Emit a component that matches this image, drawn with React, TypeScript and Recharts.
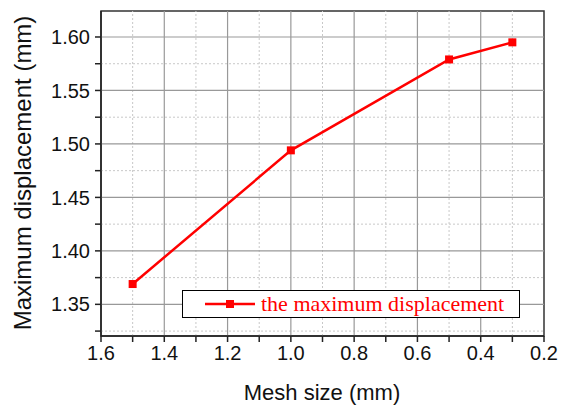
import { LineChart, Line, XAxis, YAxis, ReferenceLine, ReferenceArea } from 'recharts'

const meshSize = [1.5, 1.0, 0.5, 0.3]
const maxDisp = [1.369, 1.494, 1.579, 1.595]

const xTicks = [1.6, 1.5, 1.4, 1.3, 1.2, 1.1, 1.0, 0.9, 0.8, 0.7, 0.6, 0.5, 0.4, 0.3, 0.2]
const xMajorGrid = [1.4, 1.2, 1.0, 0.8, 0.6, 0.4]
const xMinorGrid = [1.5, 1.3, 1.1, 0.9, 0.7, 0.5, 0.3]
const yTicks = [1.325, 1.35, 1.375, 1.4, 1.425, 1.45, 1.475, 1.5, 1.525, 1.55, 1.575, 1.6]
const yMajorGrid = [1.35, 1.4, 1.45, 1.5, 1.55, 1.6]
const yMinorGrid = [1.325, 1.375, 1.425, 1.475, 1.525, 1.575]

const xDomain: [number, number] = [0.2, 1.6]
const yDomain: [number, number] = [1.3204, 1.6243]

const seriesName = 'the maximum displacement'

const data = meshSize.map((m, i) => ({ mesh: m, disp: maxDisp[i] }))

const sans = 'Liberation Sans, Arial, sans-serif'
const axisFont = { fontSize: 20, fill: '#111', fontFamily: sans }

const SquareDot = (props: any) => {
  const { cx, cy } = props
  if (cx == null || cy == null) return null
  return <rect x={cx - 4} y={cy - 4} width={8} height={8} fill="#ff0000" />
}

// legend drawn as an overlay so it doesn't eat into the plot height
const LegendBox = () => (
  <div
    style={{
      position: 'absolute',
      left: 182,
      top: 290,
      width: 336,
      height: 26,
      border: '1px solid #000',
      background: '#fff',
      display: 'flex',
      alignItems: 'center',
    }}
  >
    <svg width={78} height={26}>
      <line x1={22} x2={72} y1={13} y2={13} stroke="#ff0000" strokeWidth={2.5} />
      <rect x={43} y={9} width={8} height={8} fill="#ff0000" />
    </svg>
    <span style={{ fontFamily: 'Liberation Serif, Times New Roman, serif', fontSize: 22, color: '#ff0000', lineHeight: '26px', whiteSpace: 'nowrap' }}>
      {seriesName}
    </span>
  </div>
)

export default function App() {
  return (
    <div style={{ position: 'absolute', left: 0, top: 0, width: 561, height: 408, background: '#fff' }}>
      <LineChart width={561} height={408} data={data} margin={{ top: 11, right: 17, bottom: 42, left: 0 }}>
        <XAxis
          dataKey="mesh"
          type="number"
          domain={xDomain}
          reversed
          ticks={xTicks}
          interval={0}
          allowDataOverflow
          height={30}
          tick={axisFont}
          tickSize={6}
          tickMargin={4}
          axisLine={{ stroke: '#222', strokeWidth: 1.5 }}
          tickLine={{ stroke: '#222', strokeWidth: 1.5 }}
          tickFormatter={(v: number) => (Math.round(v * 10) % 2 === 0 ? v.toFixed(1) : '')}
        />
        <YAxis
          type="number"
          domain={yDomain}
          ticks={yTicks}
          interval={0}
          allowDataOverflow
          width={101}
          tick={axisFont}
          tickSize={6}
          tickMargin={5}
          axisLine={{ stroke: '#222', strokeWidth: 1.5 }}
          tickLine={{ stroke: '#222', strokeWidth: 1.5 }}
          tickFormatter={(v: number) => (Math.round(v * 1000) % 50 === 0 ? v.toFixed(2) : '')}
        />
        {xMinorGrid.map((v) => (
          <ReferenceLine key={'xm' + v} x={v} stroke="#c8c8c8" strokeDasharray="2 2" />
        ))}
        {yMinorGrid.map((v) => (
          <ReferenceLine key={'ym' + v} y={v} stroke="#c8c8c8" strokeDasharray="2 2" />
        ))}
        {xMajorGrid.map((v) => (
          <ReferenceLine key={'xM' + v} x={v} stroke="#999" strokeWidth={1.2} />
        ))}
        {yMajorGrid.map((v) => (
          <ReferenceLine key={'yM' + v} y={v} stroke="#999" strokeWidth={1.2} />
        ))}
        <ReferenceArea x1={xDomain[0]} x2={xDomain[1]} y1={yDomain[0]} y2={yDomain[1]} fill="none" stroke="#333" strokeWidth={1.5} />
        <Line
          dataKey="disp"
          name={seriesName}
          stroke="#ff0000"
          strokeWidth={2.5}
          dot={<SquareDot />}
          activeDot={false}
          isAnimationActive={false}
        />
        <text x={322} y={400} textAnchor="middle" style={{ fontSize: 22, fontFamily: sans, fill: '#111' }}>
          Mesh size (mm)
        </text>
        <text
          x={31}
          y={173}
          textAnchor="middle"
          transform="rotate(-90 31 173)"
          style={{ fontSize: 24, fontFamily: sans, fill: '#111' }}
        >
          Maximum displacement (mm)
        </text>
      </LineChart>
      <LegendBox />
    </div>
  )
}
